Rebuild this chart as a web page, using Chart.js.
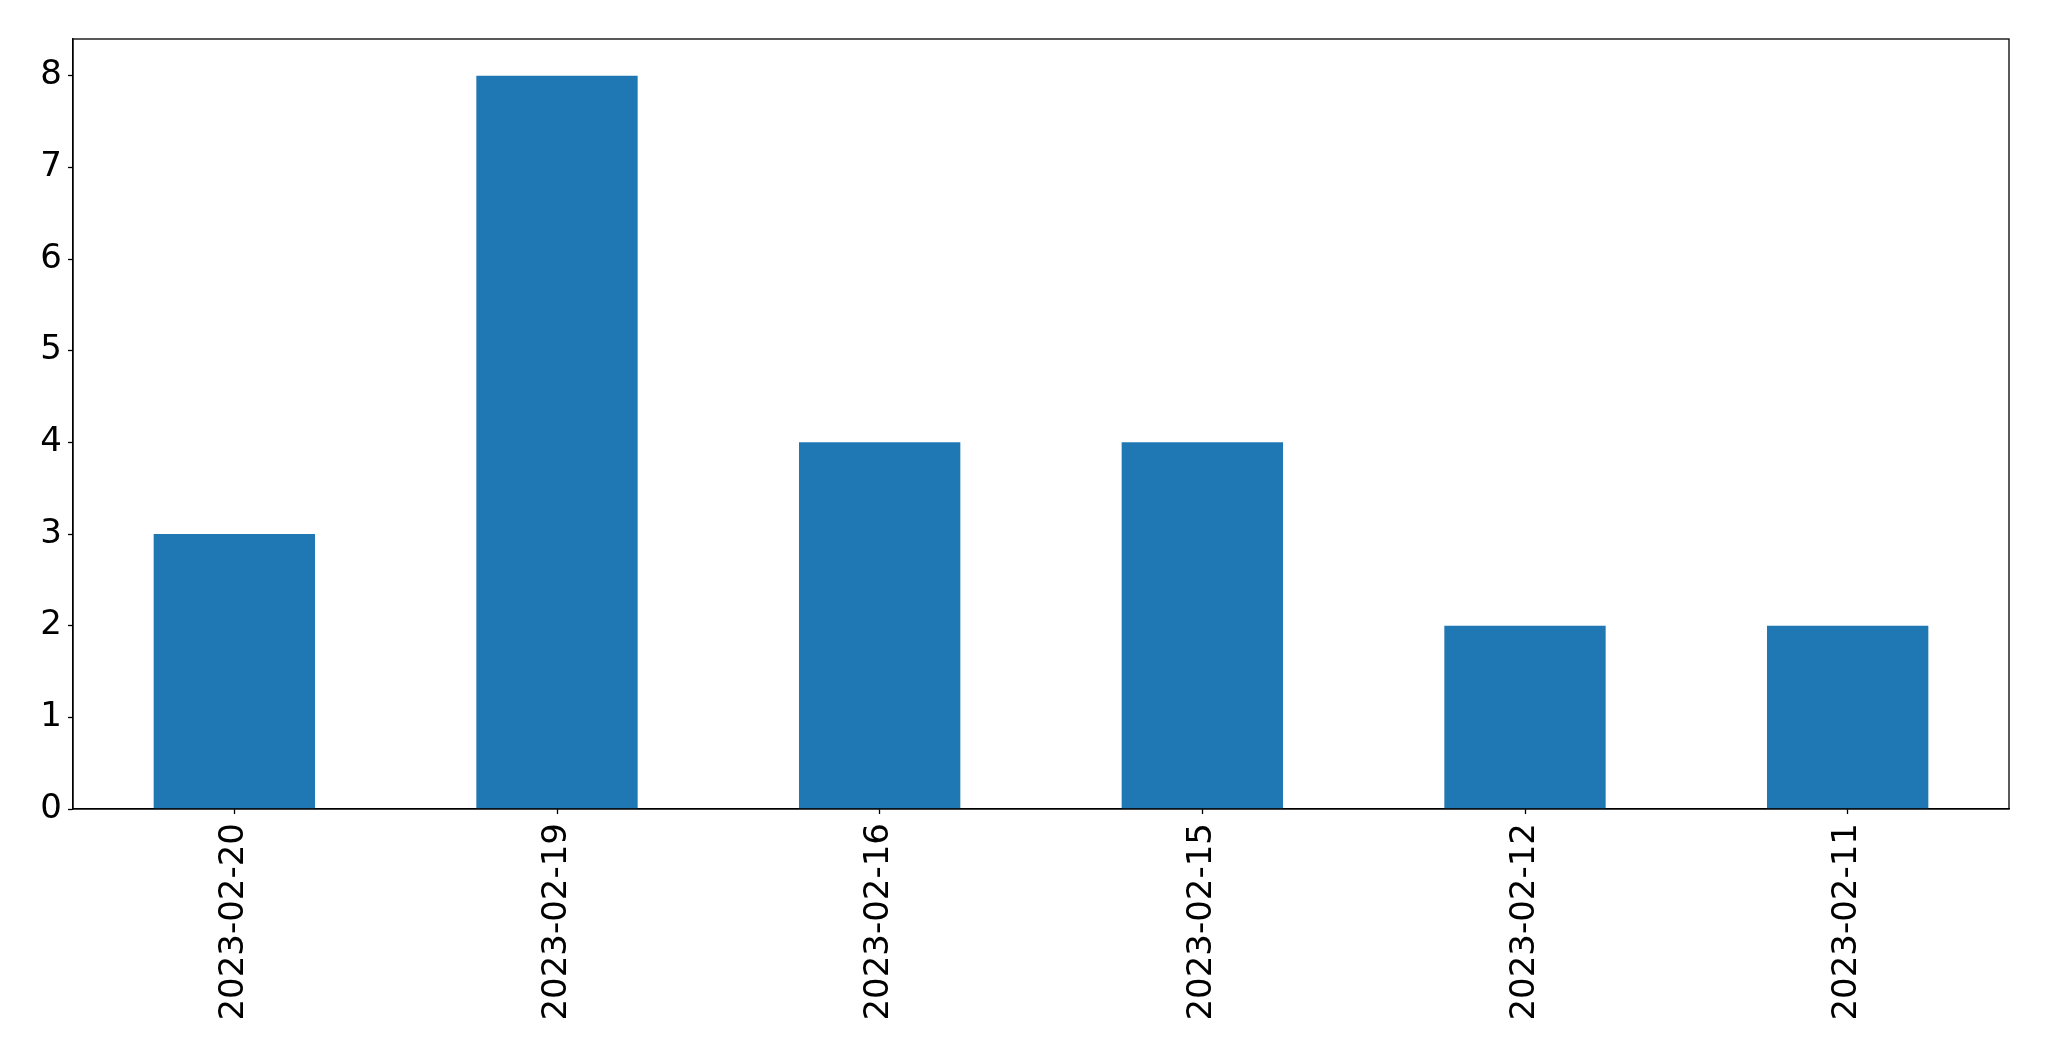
<!DOCTYPE html>
<html>
<head>
<meta charset="utf-8">
<script src="https://cdn.jsdelivr.net/npm/chart.js@4/dist/chart.umd.min.js"></script>
<style>
  html, body { margin: 0; padding: 0; background: #fff; }
  #wrap { width: 2049px; height: 1061px; }
</style>
</head>
<body>
<div id="wrap"><canvas id="chart" width="2049" height="1061"></canvas></div>
<script>
// ===================== Data ===================

const dates = ['2023-02-20', '2023-02-19', '2023-02-16', '2023-02-15', '2023-02-12', '2023-02-11'];
const counts = [3, 8, 4, 4, 2, 2];
const yTicks = [0, 1, 2, 3, 4, 5, 6, 7, 8];

// ===================== Chart ===================

const tickFont = { family: 'DejaVu Sans', size: 34 };

// matplotlib-style box around the plot area
const frame = {
  id: 'frame',
  afterDraw(chart) {
    const a = chart.chartArea;
    const ctx = chart.ctx;
    ctx.save();
    ctx.strokeStyle = '#000';
    ctx.lineWidth = 1.3;
    ctx.strokeRect(a.left, a.top, a.right - a.left, a.bottom - a.top);
    ctx.restore();
  }
};

new Chart(document.getElementById('chart'), {
  type: 'bar',
  data: {
    labels: dates,
    datasets: [{
      data: counts,
      backgroundColor: '#1f77b4',
      barPercentage: 0.5,
      categoryPercentage: 1.0
    }]
  },
  options: {
    responsive: false,
    animation: false,
    layout: { padding: { top: 39, right: 40, left: 0, bottom: 0 } },
    plugins: { legend: { display: false }, tooltip: { enabled: false } },
    scales: {
      x: {
        grid: { offset: false, drawOnChartArea: false, tickLength: 5, color: '#000', tickWidth: 1.3 },
        border: { display: true, color: '#000', width: 1.3 },
        ticks: { color: '#000', font: tickFont, minRotation: 90, maxRotation: 90, padding: 9, autoSkip: false },
        afterFit(scale) { scale.height = 252; }
      },
      y: {
        min: 0,
        max: 8.4,
        grid: { drawOnChartArea: false, tickLength: 5, color: '#000', tickWidth: 1.3 },
        border: { display: true, color: '#000', width: 1.3 },
        afterBuildTicks(scale) { scale.ticks = yTicks.map(v => ({ value: v })); },
        ticks: { color: '#000', font: tickFont, padding: 6 },
        afterFit(scale) { scale.width = 73; }
      }
    }
  },
  plugins: [frame]
});
</script>
</body>
</html>
